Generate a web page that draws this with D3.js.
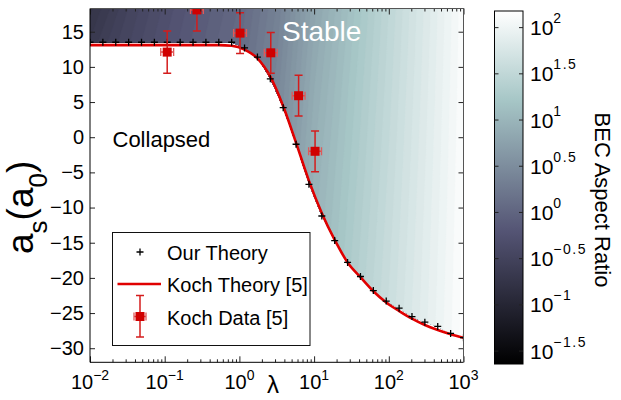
<!DOCTYPE html>
<html>
<head>
<meta charset="utf-8">
<script src="https://cdn.jsdelivr.net/npm/d3@7"></script>
<style>
  body { margin: 0; background: #fff; }
  svg { font-family: "Liberation Sans", Arial, Helvetica, sans-serif; }
</style>
</head>
<body>
<svg id="chart" width="621" height="400"></svg>
<script>
// ---------- data ----------
// lambda grid used by both theory curves
const lamGrid = [0.01, 0.01487, 0.02212, 0.0329, 0.04894, 0.07279, 0.1083, 0.161, 0.2395, 0.3562,
  0.5298, 0.788, 1.172, 1.743, 2.593, 3.857, 5.736, 8.532, 12.69, 18.87,
  28.07, 41.75, 62.1, 92.37, 137.4, 204.3, 303.9, 452, 672.3, 1000];
// "Our Theory" (+ markers)
const ourTheory = [13.5, 13.5, 13.5, 13.5, 13.5, 13.5, 13.5, 13.5, 13.5, 13.5,
  13.5, 13.5, 12.7, 11.4, 8.3, 4.2, -1.0, -6.7, -11.2, -14.7,
  -17.8, -19.8, -21.8, -23.3, -24.3, -25.5, -26.3, -26.9, -27.9, -28.5];
// "Koch Theory [5]" (red line)
const kochTheory = [13.1, 13.1, 13.1, 13.1, 13.1, 13.1, 13.1, 13.1, 13.1, 13.1,
  13.1, 13.0, 12.45, 11.2, 8.6, 4.4, -0.8, -6.2, -10.8, -14.6,
  -17.8, -19.9, -21.9, -23.5, -24.7, -25.8, -26.7, -27.4, -28.0, -28.5];
// "Koch Data [5]"
const kochLam = [0.108, 0.27, 1.02, 2.63, 6.2, 10.3];
const kochA = [12.1, 18.1, 14.8, 12.0, 5.9, -2.0];
const kochErr = [3, 3, 2.9, 2.9, 2.9, 2.9];

// BEC aspect ratio field, log10 values on a grid (rows: a_s, cols: log10 lambda)
const fieldLogLam = [-2, -1.5, -1, -0.5, 0, 0.5, 1, 1.5, 2, 2.5, 3];
const fieldA = [18, 8, -2, -12, -22, -32];
const fieldLogAR = [
  [-0.75, -0.50, -0.30, -0.12, 0.05, 0.35, 0.80, 1.15, 1.48, 1.80, 2.12],
  [-0.58, -0.40, -0.22, -0.05, 0.12, 0.42, 0.87, 1.20, 1.51, 1.82, 2.13],
  [-0.50, -0.33, -0.15, 0.00, 0.18, 0.48, 0.93, 1.24, 1.54, 1.84, 2.14],
  [-0.45, -0.28, -0.10, 0.05, 0.22, 0.52, 0.98, 1.28, 1.57, 1.86, 2.15],
  [-0.42, -0.25, -0.07, 0.08, 0.25, 0.56, 1.02, 1.32, 1.60, 1.88, 2.16],
  [-0.40, -0.22, -0.05, 0.10, 0.28, 0.60, 1.06, 1.36, 1.63, 1.90, 2.17]
];

const yTicks = [-30, -25, -20, -15, -10, -5, 0, 5, 10, 15];
const xDecades = [-2, -1, 0, 1, 2, 3];
const cbTicks = [2, 1.5, 1, 0.5, 0, -0.5, -1, -1.5];
const cbTickText = ["2", "1.5", "1", "0.5", "0", "\u22120.5", "\u22121", "\u22121.5"];

// ---------- layout ----------
const svg = d3.select("#chart");
const L = 90, R = 463.5, T = 8.5, B = 362.3;
const x = d3.scaleLog().domain([0.01, 1000]).range([L, R]);
const y = d3.scaleLinear().domain([-32, 18.3]).range([B, T]);

// MATLAB bone colormap (piecewise linear)
const bone = d3.scaleLinear()
  .domain([0, 0.375, 0.75, 1])
  .range(["rgb(0,0,0)", "rgb(84,84,116)", "rgb(167,199,199)", "rgb(255,255,255)"])
  .clamp(true);
const cbMin = -1.64, cbMax = 2.18;
const colorOf = v => bone((v - cbMin) / (cbMax - cbMin));

const defs = svg.append("defs");
defs.append("clipPath").attr("id", "plotClip")
  .append("rect").attr("x", L).attr("y", T).attr("width", R - L).attr("height", B - T);

// stable region: above the "Our Theory" curve
const stablePts = lamGrid.map((l, i) => [x(l), y(ourTheory[i])]);
stablePts.push([R, T - 2], [L, T - 2]);
defs.append("clipPath").attr("id", "stableClip")
  .append("path").attr("d", "M" + stablePts.join("L") + "Z");

// ---------- filled field ----------
const nx = fieldLogLam.length, ny = fieldA.length;
const thresholds = d3.range(cbMin, cbMax, 0.06);
const contours = d3.contours().size([nx, ny]).thresholds(thresholds)(fieldLogAR.flat());
const dl = fieldLogLam[1] - fieldLogLam[0], da = fieldA[1] - fieldA[0];
const gridPath = d3.geoPath(d3.geoTransform({
  point(px, py) {
    const ll = fieldLogLam[0] + (px - 0.5) * dl;
    const aa = fieldA[0] + (py - 0.5) * da;
    this.stream.point(x(Math.pow(10, ll)), y(aa));
  }
}));
svg.append("g").attr("clip-path", "url(#plotClip)")
  .append("g").attr("clip-path", "url(#stableClip)")
  .selectAll("path").data(contours).join("path")
  .attr("d", gridPath)
  .attr("fill", d => colorOf(d.value + 0.03))
  .attr("stroke", d => colorOf(d.value + 0.03))
  .attr("stroke-width", 0.5);

// ---------- curves and data ----------
const plot = svg.append("g").attr("clip-path", "url(#plotClip)");

const kochLine = d3.line().x(d => x(d[0])).y(d => y(d[1])).curve(d3.curveMonotoneX);
plot.append("path")
  .datum(lamGrid.map((l, i) => [l, kochTheory[i]]))
  .attr("fill", "none").attr("stroke", "#e00000").attr("stroke-width", 2.6)
  .attr("d", kochLine);

plot.selectAll(".plus").data(lamGrid.map((l, i) => [l, ourTheory[i]])).join("path")
  .attr("class", "plus")
  .attr("d", d => `M${x(d[0]) - 3.5},${y(d[1])}h7M${x(d[0])},${y(d[1]) - 3.5}v7`)
  .attr("stroke", "#000").attr("stroke-width", 1.3);

function errMarker(g, cx, cy, ylo, yhi, xlo, xhi) {
  const red = "#d41c1c";
  g.append("line").attr("x1", cx).attr("x2", cx).attr("y1", ylo).attr("y2", yhi)
    .attr("stroke", red).attr("stroke-width", 1.5);
  [ylo, yhi].forEach(v => g.append("line").attr("x1", cx - 4).attr("x2", cx + 4)
    .attr("y1", v).attr("y2", v).attr("stroke", red).attr("stroke-width", 1.5));
  g.append("line").attr("x1", xlo).attr("x2", xhi).attr("y1", cy).attr("y2", cy)
    .attr("stroke", "#e04a4a").attr("stroke-width", 1.5);
  [xlo, xhi].forEach(v => g.append("line").attr("x1", v).attr("x2", v)
    .attr("y1", cy - 4).attr("y2", cy + 4).attr("stroke", "#e05a5a").attr("stroke-width", 1.3));
  g.append("rect").attr("x", cx - 4.5).attr("y", cy - 4.5).attr("width", 9).attr("height", 9)
    .attr("fill", "#d00000");
}
kochLam.forEach((l, i) => {
  errMarker(plot, x(l), y(kochA[i]), y(kochA[i] - kochErr[i]), y(kochA[i] + kochErr[i]),
    x(l / 1.22), x(l * 1.22));
});

// ---------- axes ----------
const minorX = [];
xDecades.slice(0, -1).forEach(d => { for (let k = 2; k <= 9; k++) minorX.push(k * Math.pow(10, d)); });
const majorX = xDecades.map(d => Math.pow(10, d));

function tickAxes(axisFn, pos, scale, vals, size) {
  const g = svg.append("g").attr("transform", pos)
    .call(axisFn(scale).tickValues(vals).tickSize(-size).tickSizeOuter(0).tickFormat(""));
  g.select(".domain").remove();
  g.selectAll("line").attr("stroke", "#222");
  return g;
}
tickAxes(d3.axisBottom, `translate(0,${B})`, x, majorX, 6);
tickAxes(d3.axisBottom, `translate(0,${B})`, x, minorX, 3);
tickAxes(d3.axisTop, `translate(0,${T})`, x, majorX, 6);
tickAxes(d3.axisTop, `translate(0,${T})`, x, minorX, 3);
tickAxes(d3.axisRight, `translate(${R},0)`, y, yTicks, 5);

const yAxis = svg.append("g").attr("transform", `translate(${L},0)`)
  .call(d3.axisLeft(y).tickValues(yTicks).tickSize(-5).tickSizeOuter(0).tickPadding(6)
    .tickFormat(d => String(d).replace("-", "\u2212")));
yAxis.select(".domain").remove();
yAxis.selectAll("line").attr("stroke", "#222");
yAxis.selectAll("text").attr("font-size", 20).attr("fill", "#000")
  .attr("font-family", "Liberation Sans, Arial, sans-serif");

// box
svg.append("path").attr("d", `M${R},${T}H${L}V${B}H${R}`).attr("fill", "none")
  .attr("stroke", "#000").attr("stroke-width", 1);
svg.append("path").attr("d", `M${L},${T}H${R}V${B}`).attr("fill", "none")
  .attr("stroke", "#555").attr("stroke-width", 1);

// x tick labels (10^n)
xDecades.forEach(d => {
  const t = svg.append("text").attr("x", x(Math.pow(10, d))).attr("y", 389)
    .attr("text-anchor", "middle").attr("font-size", 20).attr("fill", "#000");
  t.append("tspan").text("10");
  t.append("tspan").attr("dy", -9).attr("font-size", 14).text(String(d).replace("-", "\u2212"));
});

// axis labels
const yl = svg.append("text").attr("transform", "translate(33,254) rotate(-90)")
  .attr("font-size", 37).attr("fill", "#000");
yl.append("tspan").text("a");
yl.append("tspan").attr("font-size", 26).attr("dy", 14).text("s");
yl.append("tspan").attr("dy", -14).text("(a");
yl.append("tspan").attr("font-size", 26).attr("dy", 14).text("0");
yl.append("tspan").attr("dy", -14).text(")");

svg.append("text").attr("x", 273).attr("y", 393).attr("text-anchor", "middle")
  .attr("font-size", 24).attr("fill", "#000").text("\u03bb");

// region labels
svg.append("text").attr("x", 282).attr("y", 40.5).attr("font-size", 28)
  .attr("fill", "#fff").text("Stable");
svg.append("text").attr("x", 112.5).attr("y", 146.5).attr("font-size", 22)
  .attr("fill", "#000").text("Collapsed");

// ---------- legend ----------
const lg = svg.append("g");
lg.append("rect").attr("x", 112.5).attr("y", 232.5).attr("width", 197.5).attr("height", 113)
  .attr("fill", "#fff").attr("stroke", "#111").attr("stroke-width", 1);
lg.append("path").attr("d", "M136.5,252h7M140,248.5v7").attr("stroke", "#000").attr("stroke-width", 1.3);
lg.append("line").attr("x1", 117.5).attr("x2", 161).attr("y1", 284).attr("y2", 284)
  .attr("stroke", "#e00000").attr("stroke-width", 2.6);
errMarker(lg, 140, 316.5, 337, 295.5, 134, 146);
const legendText = ["Our Theory", "Koch Theory [5]", "Koch Data [5]"];
const legendY = [259.5, 291.5, 324.5];
legendText.forEach((s, i) => lg.append("text").attr("x", 167).attr("y", legendY[i])
  .attr("font-size", 20).attr("fill", "#000").text(s));

// ---------- colorbar ----------
const cbL = 494.5, cbR = 523, cbT = 11, cbB = 364;
const yc = d3.scaleLinear().domain([cbMin, cbMax]).range([cbB, cbT]);
const grad = defs.append("linearGradient").attr("id", "cbGrad")
  .attr("x1", 0).attr("x2", 0).attr("y1", 1).attr("y2", 0);
bone.domain().forEach((t, i) => grad.append("stop")
  .attr("offset", t).attr("stop-color", bone.range()[i]));
svg.append("rect").attr("x", cbL).attr("y", cbT).attr("width", cbR - cbL).attr("height", cbB - cbT)
  .attr("fill", "url(#cbGrad)").attr("stroke", "#000").attr("stroke-width", 1);
cbTicks.forEach((v, i) => {
  const yy = yc(v);
  svg.append("path").attr("d", `M${cbL},${yy}h4M${cbR},${yy}h-4`).attr("stroke", "#222");
  const t = svg.append("text").attr("x", 530).attr("y", yy + 7.5)
    .attr("font-size", 21).attr("fill", "#000");
  t.append("tspan").text("10");
  t.append("tspan").attr("dy", -12).attr("font-size", 14).attr("letter-spacing", 1.5).text(cbTickText[i]);
});
svg.append("text").attr("transform", "translate(595,200) rotate(90)")
  .attr("text-anchor", "middle").attr("font-size", 22).attr("fill", "#000")
  .text("BEC Aspect Ratio");
</script>
</body>
</html>
